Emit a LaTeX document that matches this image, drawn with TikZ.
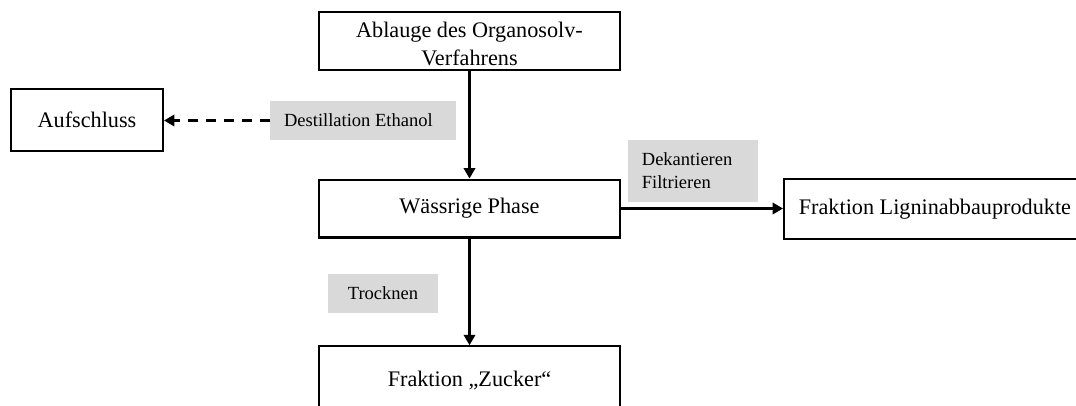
\documentclass[tikz,border=0pt]{standalone}
\usepackage{fontspec}
\setmainfont{Liberation Serif}
\usetikzlibrary{arrows.meta}
\definecolor{labelgray}{HTML}{D9D9D9}

\begin{document}
\begin{tikzpicture}[x=0.54pt,y=-0.54pt,
    box/.style={draw,line width=1.1pt,align=center,inner sep=2pt,
      font=\fontsize{12}{16}\selectfont},
    steplabel/.style={fill=labelgray,inner sep=2pt,
      font=\fontsize{10}{12.5}\selectfont},
    flow/.style={line width=1.1pt,-{Triangle[length=5.6pt,width=6.2pt]}}]
  \useasboundingbox (0,0) rectangle (1076,405);
  \clip (0,0) rectangle (1076,405);

  %% boxes
  \node[box,minimum width=162.5pt,minimum height=31.3pt] (ablauge) at (469.5,41)
    {\raisebox{-5.5pt}[0pt][0pt]{\begin{tabular}{@{}c@{}}Ablauge des Organosolv-\\[-0.5pt]Verfahrens\end{tabular}}};
  \node[box,minimum width=82.1pt,minimum height=33.5pt] (aufschluss) at (87,120) {Aufschluss};
  \node[box,minimum width=162.5pt,minimum height=31.3pt] (phase) at (469.5,208.5) {Wässrige Phase};
  %% runs past the right edge
  \node[box,anchor=west,inner xsep=8pt,minimum height=32.4pt]
    (lignin) at (783,209) {Fraktion Ligninabbauprodukte\hspace*{6pt}};
  %% cut off at the bottom
  \node[box,minimum width=162.5pt,minimum height=37pt] (zucker) at (469.5,380.5) {Fraktion „Zucker“};

  %% grey step labels
  \node[steplabel,minimum width=100.4pt,minimum height=21.1pt] (destillation) at (363,120.5)
    {\hspace*{-5pt}Destillation Ethanol};
  \node[steplabel,minimum width=70.2pt,minimum height=33.5pt,align=left] (dekantieren) at (693,171)
    {Dekantieren\\Filtrieren\hspace*{18pt}};
  \node[steplabel,minimum width=59.4pt,minimum height=21.1pt] (trocknen) at (383,293.5) {Trocknen};

  %% arrows
  \draw[flow] (ablauge) -- (phase);
  \draw[flow,dashed,dash pattern=on 5.4pt off 4.3pt] (destillation.west) -- (destillation.west -| aufschluss.east);
  \draw[flow] (phase.east) -- (phase.east -| lignin.west);
  \draw[flow] (phase) -- (zucker);
\end{tikzpicture}
\end{document}
